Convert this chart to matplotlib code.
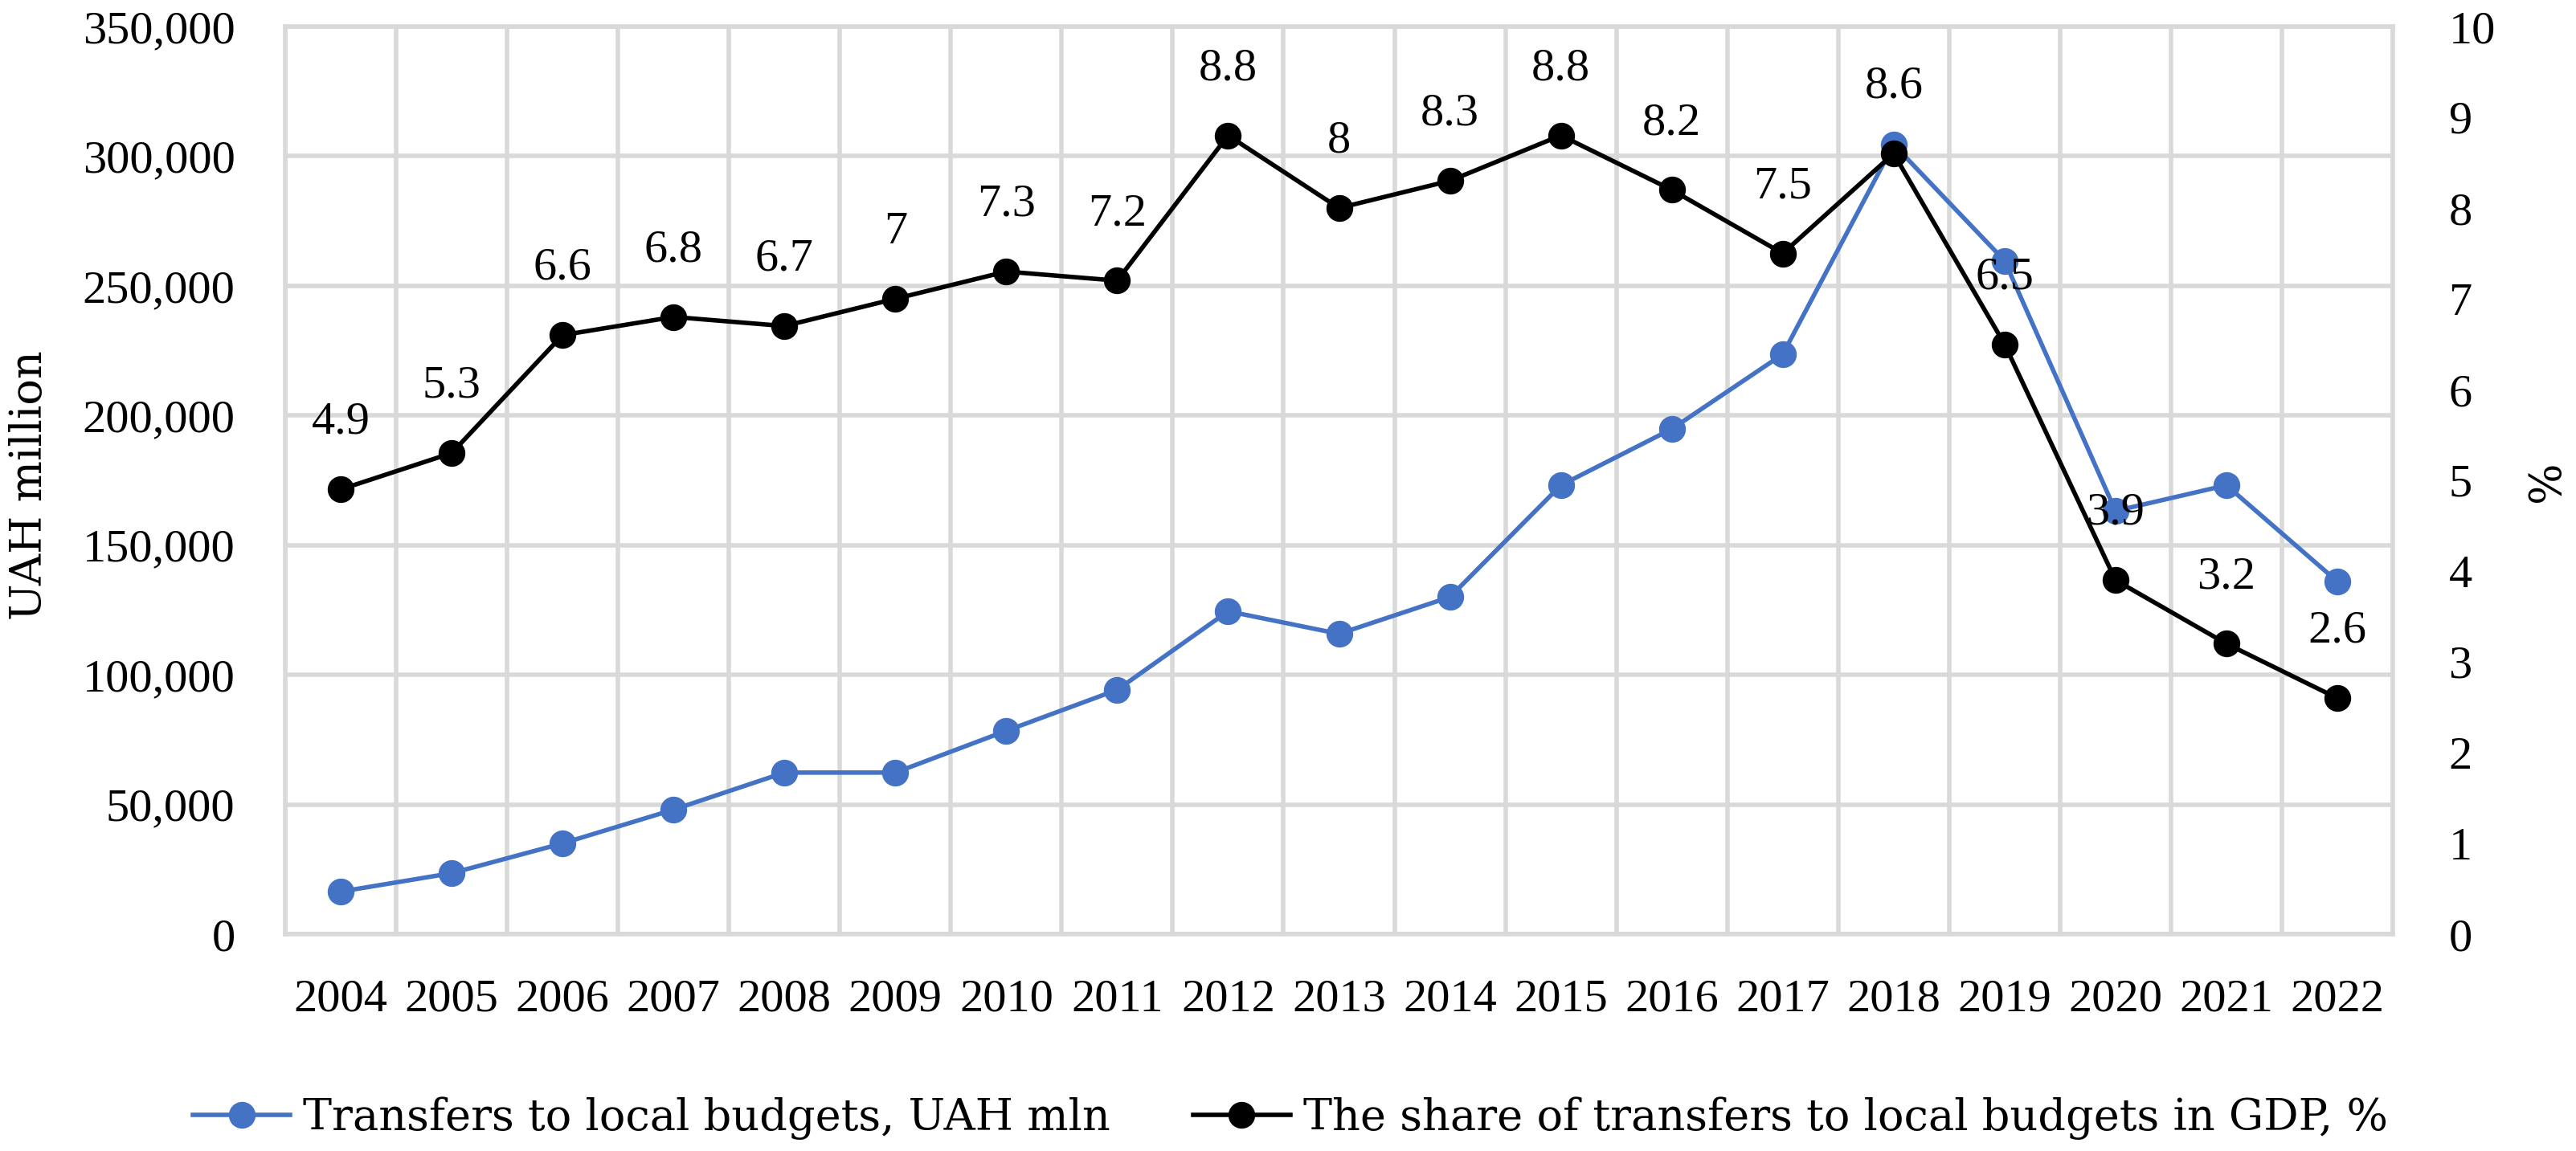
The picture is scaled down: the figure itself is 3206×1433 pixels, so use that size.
import matplotlib
matplotlib.use("Agg")
import matplotlib.pyplot as plt
from matplotlib.ticker import FuncFormatter, MultipleLocator, FixedLocator

years = ["2004", "2005", "2006", "2007", "2008", "2009", "2010", "2011", "2012", "2013",
         "2014", "2015", "2016", "2017", "2018", "2019", "2020", "2021", "2022"]
transfers_mln = [16400, 23500, 35000, 48000, 62300, 62300, 78400, 94200, 124500, 115800,
                 130000, 173100, 194800, 223600, 304500, 259700, 163200, 173100, 136000]
share_gdp = [4.9, 5.3, 6.6, 6.8, 6.7, 7, 7.3, 7.2, 8.8, 8, 8.3, 8.8, 8.2, 7.5, 8.6, 6.5, 3.9, 3.2, 2.6]
share_labels = ["4.9", "5.3", "6.6", "6.8", "6.7", "7", "7.3", "7.2", "8.8", "8", "8.3", "8.8",
                "8.2", "7.5", "8.6", "6.5", "3.9", "3.2", "2.6"]

plt.rcParams['font.family'] = ['Liberation Serif', 'DejaVu Serif']
FS = 42
TXT_FAMILY = ['DejaVu Serif', 'Liberation Serif']
TXT_FS = 39
GRID = "#D9D9D9"
BLUE = "#4472C4"

W, H = 3206, 1433
fig = plt.figure(figsize=(W / 100, H / 100), dpi=100)
left, right, top, bottom = 355, 2978, 33, 1163
ax = fig.add_axes([left / W, 1 - bottom / H, (right - left) / W, (bottom - top) / H])
ax2 = ax.twinx()

x = list(range(len(years)))
ax.plot(x, transfers_mln, color=BLUE, lw=4, marker='o', ms=23, mec=BLUE, mfc=BLUE,
        label="Transfers to local budgets, UAH mln", zorder=3, clip_on=False)
ax2.plot(x, share_gdp, color='black', lw=4, marker='o', ms=23, mec='black', mfc='black',
         label="The share of transfers to local budgets in GDP, %", zorder=3, clip_on=False)

for xi, v, s in zip(x, share_gdp, share_labels):
    ax2.annotate(s, (xi, v), xytext=(0, 60), textcoords='offset points',
                 ha='center', va='center', fontsize=FS, color='black', zorder=5)

ax.set_xlim(-0.5, len(years) - 0.5)
ax.set_ylim(0, 350000)
ax2.set_ylim(0, 10)
ax.set_xticks(x)
ax.set_xticklabels(years)
ax.xaxis.set_minor_locator(FixedLocator([i - 0.5 for i in range(len(years) + 1)]))
ax.yaxis.set_major_locator(MultipleLocator(50000))
ax.yaxis.set_major_formatter(FuncFormatter(lambda v, p: f"{int(v):,}"))
ax2.yaxis.set_major_locator(MultipleLocator(1))
ax2.yaxis.set_major_formatter(FuncFormatter(lambda v, p: f"{int(v)}"))

ax.grid(axis='y', which='major', color=GRID, lw=4)
ax.grid(axis='x', which='minor', color=GRID, lw=4)
ax.grid(axis='x', which='major', visible=False)
ax.set_axisbelow(True)

ax.tick_params(axis='both', which='both', length=0, labelsize=FS, colors='black')
ax.tick_params(axis='x', pad=40)
ax.tick_params(axis='y', pad=45)
ax2.tick_params(axis='y', length=0, labelsize=FS, pad=50, colors='black')

for sp in ax.spines.values():
    sp.set_color(GRID)
    sp.set_linewidth(4)
for sp in ax2.spines.values():
    sp.set_visible(False)

cy = 1 - 604 / H
fig.text(37 / W, cy, "UAH million", rotation=90, ha='center', va='center',
         fontsize=TXT_FS, family=TXT_FAMILY)
fig.text(3170 / W, 1 - 599 / H, "%", rotation=90, ha='center', va='center',
         fontsize=TXT_FS, family=TXT_FAMILY)

h1, l1 = ax.get_legend_handles_labels()
h2, l2 = ax2.get_legend_handles_labels()
fig.legend(h1 + h2, l1 + l2, loc='center', bbox_to_anchor=(0.501, 1 - 1392 / H), ncol=2,
           frameon=False, prop={'family': TXT_FAMILY, 'size': TXT_FS},
           handlelength=2.23, handletextpad=0.3, columnspacing=1.9)

fig.savefig("out.png", dpi=100)
